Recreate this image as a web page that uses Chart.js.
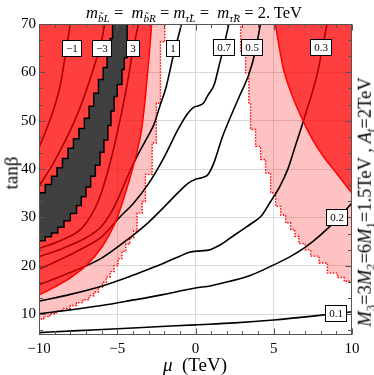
<!DOCTYPE html>
<html>
<head>
<meta charset="utf-8">
<script src="https://cdn.jsdelivr.net/npm/chart.js@4.4.1/dist/chart.umd.min.js"></script>
<style>
html,body{margin:0;padding:0;background:#fff;}
#wrap{position:relative;width:374px;height:375px;overflow:hidden;font-family:"Liberation Serif","Times New Roman",serif;color:#000;}
#c{position:absolute;left:0;top:0;}
.lab{position:absolute;white-space:nowrap;line-height:1;}
.lab i{font-style:italic;}
.lab sub{font-size:68%;vertical-align:baseline;position:relative;top:0.32em;}
#title{left:194px;top:13px;font-size:16.5px;transform:translate(-50%,-50%);}
#ylab{left:11px;top:173px;font-size:19px;transform:translate(-50%,-50%) rotate(-90deg);}
#xlab{left:195px;top:364px;font-size:19px;transform:translate(-50%,-50%);}
#rlab{left:365px;top:202px;font-size:18.5px;transform:translate(-50%,-50%) rotate(-90deg);}
</style>
</head>
<body>
<div id="wrap">
<canvas id="c" width="374" height="375"></canvas>
<div id="title" class="lab"><i>m</i><sub><i>b̃L</i></sub> =&nbsp; <i>m</i><sub><i>b̃R</i></sub> = <i>m</i><sub><i>τ̃L</i></sub> =&nbsp; <i>m</i><sub><i>τ̃R</i></sub> = 2. TeV</div>
<div id="ylab" class="lab">tanβ</div>
<div id="xlab" class="lab"><i>μ</i>&nbsp; (TeV)</div>
<div id="rlab" class="lab"><i>M</i><sub>3</sub>=3<i>M</i><sub>2</sub>=6<i>M</i><sub>1</sub>=1.5TeV , <i>A</i><sub><i>t</i></sub>=2TeV</div>
</div>
<script>
// ---- axes ----
const muRange = [-10, 10];
const tanRange = [5.7, 70];
const muTicks = [-10, -5, 0, 5, 10];
const muTickLabels = ['\u221210', '\u22125', '0', '5', '10'];
const tanTicks = [10, 20, 30, 40, 50, 60, 70];
const tanTickLabels = ['10', '20', '30', '40', '50', '60', '70'];
const muMinorTicks = [-9, -8, -7, -6, -4, -3, -2, -1, 1, 2, 3, 4, 6, 7, 8, 9];
const tanMinorTicks = [6.67, 13.33, 16.67, 23.33, 26.67, 33.33, 36.67, 43.33, 46.67, 53.33, 56.67, 63.33, 66.67];

// ---- contour lines (mu, tan beta) ----
const c01Mu  = [-10, -7.5, -5, -2.5, 0, 2.5, 5, 7.5, 10];
const c01Tan = [6.2, 6.6, 7.0, 7.4, 7.8, 8.2, 8.8, 9.6, 10.5];
const c02Mu  = [-10, -8, -6, -4.2, -2, -1, 0, 1, 2.2, 3.5, 5, 6, 7, 8, 9, 10];
const c02Tan = [10.1, 10.9, 11.8, 12.8, 14.1, 14.8, 15.4, 15.9, 16.8, 18.0, 20.2, 21.8, 23.8, 26.4, 29.5, 33.0];
const c03Mu  = [-10, -8, -6, -4.2, -3, -2, -1, -0.4, 0.3, 0.9, 1.5, 2.2, 3, 3.6, 4.2, 4.8, 5.4, 5.9, 6.4, 6.9, 7.8, 8.4, 8.6];
const c03Tan = [12.7, 14.1, 15.8, 17.8, 19.3, 20.6, 22.0, 22.8, 23.1, 23.3, 24.2, 25.7, 27.5, 28.8, 30.3, 33.3, 36.5, 40, 45, 50, 60, 70, 73.5];
const c05Mu  = [-10, -8, -6, -4.2, -3, -2, -1, -0.5, 0, 0.4, 0.8, 1.2, 1.7, 2.2, 2.8, 3.4, 3.8, 4.15, 4.3];
const c05Tan = [16.1, 18.6, 21.6, 25.8, 29.0, 32.2, 35.5, 37.0, 37.9, 38.2, 38.9, 41.5, 46.5, 50.5, 55, 59.5, 64, 70, 73];
const c07Mu  = [-10, -8.5, -7, -6, -4.8, -4, -3, -2, -1.1, -0.5, -0.1, 0.2, 0.5, 0.8, 1.2, 1.5, 1.8, 2.13, 2.3];
const c07Tan = [19.3, 21.5, 24.0, 26.0, 30.2, 32.8, 37.0, 42.5, 48.3, 51.5, 52.8, 53.1, 53.6, 55.3, 57.5, 61.3, 65.2, 70, 72.5];
const c1Mu   = [-10, -8.5, -7, -6, -5.4, -5, -4.6, -4.2, -3.6, -3, -2.66, -2.25, -1.9, -1.4, -0.9, -0.75];
const c1Tan  = [21.9, 23.6, 25.8, 28.2, 31.0, 33.5, 36.5, 39.5, 43.5, 47.0, 49.2, 53.3, 56.7, 63.7, 70, 72.5];
const c3Mu   = [-10, -8.5, -7.2, -6.2, -5.4, -4.8, -4.4, -4.0, -3.65, -3.45];
const c3Tan  = [23.6, 25.4, 28.0, 33.5, 42.0, 50.5, 57.0, 64.5, 70, 73.5];
const cm3Mu  = [-10, -9.3, -8.7, -8.0, -7.4, -6.9, -6.5, -6.1, -5.8, -5.65];
const cm3Tan = [36.5, 40, 43.5, 48, 52.5, 57, 61, 65.2, 70, 73];
const cm1Mu  = [-10, -9.55, -9.0, -8.6, -8.3, -8.0, -7.85];
const cm1Tan = [44.5, 48, 53, 58, 64, 70, 73];

// ---- region boundaries ----
const redLeftMu   = [-10, -9, -8, -7, -6, -5.5, -5.05, -4.6, -4.2, -3.8, -3.45, -3.2, -3.0, -2.8, -2.75];
const redLeftTan  = [14.0, 15.6, 17.5, 20.0, 23.8, 26.5, 29.5, 33.8, 38.0, 42.8, 48, 55, 62, 70, 72];
const redRightMu  = [5.0, 5.1, 5.6, 6.2, 6.8, 7.5, 8.2, 9.0, 10.0];
const redRightTan = [72, 70, 61, 55, 50.5, 46, 42.5, 39.2, 35];
const pinkLeftMu  = [-10, -9.7, -9.3, -8.9, -8.5, -8.0, -7.6, -7.2, -6.8, -6.5, -6.2, -5.95, -5.7, -5.45, -5.2, -4.95, -4.7, -4.45, -4.2, -3.95, -3.73, -3.41, -3.2, -2.77, -2.5, -2.24, -1.96, -1.96];
const pinkLeftTan = [8.1, 9.0, 9.5, 10.1, 10.6, 11.2, 11.8, 12.4, 13.0, 13.8, 14.6, 15.6, 16.6, 17.7, 18.8, 20.0, 21.5, 23.0, 24.5, 25.8, 27.2, 30.9, 33.3, 38.9, 45.4, 53.6, 66.3, 72];
const pinkRightMu  = [2.88, 3.2, 3.41, 3.52, 3.84, 4.16, 4.48, 4.8, 5.12, 5.44, 5.76, 6.08, 6.35, 6.61, 7.0, 7.36, 7.9, 8.43, 9.07, 9.5, 10.0];
const pinkRightTan = [72, 64.1, 59.9, 53.7, 48.2, 44.7, 42.0, 39.2, 35.1, 32.3, 30.5, 28.9, 27.5, 26.1, 24.6, 23.3, 22.0, 20.6, 18.5, 17.6, 16.8];
const bandLowMu  = [-10, -9.6, -9.2, -8.8, -8.4, -8.0, -7.6, -7.3, -7.0, -6.7, -6.4, -6.1, -5.85, -5.6, -5.4, -5.2, -5.0, -4.7, -4.55, -4.37, -4.37];
const bandLowTan = [25.2, 26.0, 26.8, 28.0, 29.3, 30.8, 32.5, 34.3, 36.3, 38.5, 40.8, 43.5, 46.0, 49.0, 52.0, 55.0, 57.5, 60.6, 63.0, 65.4, 73];
const bandUpMu   = [-10, -9.6, -9.2, -8.85, -8.5, -8.15, -7.8, -7.45, -7.1, -6.8, -6.5, -6.2, -5.9, -5.65, -5.45, -5.3, -5.2, -5.2];
const bandUpTan  = [33.2, 35.1, 36.8, 38.5, 40.3, 42.2, 44.3, 46.3, 48.4, 50.5, 53, 55.7, 58.5, 61, 64, 67, 70, 73];

// ---- contour labels ----
const labelText = ['\u22121', '\u22123', '3', '1', '0.7', '0.5', '0.3', '0.2', '0.1'];
const labelMu   = [-7.93, -6.01, -4.01, -1.45, 1.77, 3.58, 8.0, 9.0, 8.96];
const labelTan  = [65.0, 65.0, 65.0, 65.0, 65.2, 65.2, 65.2, 30.2, 10.3];

const pts = (xs, ys) => xs.map((v, i) => ({x: v, y: ys[i]}));

const PINK = 'rgba(255,0,0,0.24)';
const RED_OVER = 'rgba(255,0,0,0.68)';
const RED_SOLID = 'rgb(255,62,62)';
const DARK_RED_LINE = 'rgb(173,0,0)';

function contour(xs, ys, color, order) {
  return {data: pts(xs, ys), borderColor: color, borderWidth: 1.6, fill: false,
          cubicInterpolationMode: 'monotone', order: order};
}

const datasets = [
  {data: pts(pinkLeftMu, pinkLeftTan), stepped: 'after', fill: 'end', backgroundColor: PINK,
   borderColor: '#ff0000', borderWidth: 1.4, borderDash: [1.5, 1.5], order: 10},
  {data: pts(pinkRightMu, pinkRightTan), stepped: 'after', fill: 'end', backgroundColor: PINK,
   borderColor: '#ff0000', borderWidth: 1.4, borderDash: [1.5, 1.5], order: 10},
  contour(c01Mu, c01Tan, '#000', 9),
  contour(c02Mu, c02Tan, '#000', 9),
  contour(c03Mu, c03Tan, '#000', 9),
  contour(c05Mu, c05Tan, '#000', 9),
  contour(c07Mu, c07Tan, '#000', 9),
  contour(c1Mu, c1Tan, '#000', 9),
  contour(c3Mu, c3Tan, '#000', 9),
  {data: pts(redLeftMu, redLeftTan), fill: 'end', backgroundColor: RED_OVER, borderColor: '#ff0000',
   borderWidth: 1.5, cubicInterpolationMode: 'monotone', order: 8},
  {data: pts(redRightMu, redRightTan), fill: 'end', backgroundColor: RED_OVER, borderColor: '#ff0000',
   borderWidth: 1.5, cubicInterpolationMode: 'monotone', order: 8},
  {data: pts(bandLowMu, bandLowTan), stepped: 'before', fill: 'end', backgroundColor: '#404040',
   borderColor: '#000', borderWidth: 1.5, order: 7},
  {data: pts(bandUpMu, bandUpTan), stepped: 'after', fill: 'end', backgroundColor: RED_SOLID,
   borderColor: '#000', borderWidth: 1.5, order: 6},
  contour(cm3Mu, cm3Tan, DARK_RED_LINE, 5),
  contour(cm1Mu, cm1Tan, DARK_RED_LINE, 5)
];

const decor = {
  id: 'decor',
  afterDatasetsDraw(chart) {
    const {ctx, chartArea: a, scales: {x, y}} = chart;
    const L = Math.round(a.left) + 0.5, R = Math.round(a.right) - 0.5;
    const T = Math.round(a.top) + 0.5, B = Math.round(a.bottom) - 0.5;
    ctx.save();
    ctx.strokeStyle = '#555';
    ctx.lineWidth = 1;
    ctx.beginPath();
    const xt = (vals, len) => vals.forEach(v => {
      const px = Math.round(x.getPixelForValue(v)) + 0.5;
      ctx.moveTo(px, B); ctx.lineTo(px, B - len);
      ctx.moveTo(px, T); ctx.lineTo(px, T + len);
    });
    const yt = (vals, len) => vals.forEach(v => {
      const py = Math.round(y.getPixelForValue(v)) + 0.5;
      ctx.moveTo(L, py); ctx.lineTo(L + len, py);
      ctx.moveTo(R, py); ctx.lineTo(R - len, py);
    });
    xt(muTicks, 6); xt(muMinorTicks, 3.5);
    yt(tanTicks, 6); yt(tanMinorTicks, 3.5);
    ctx.stroke();
    ctx.strokeRect(L, T, R - L, B - T);
    ctx.font = '11px "Liberation Serif", serif';
    ctx.textAlign = 'center';
    ctx.textBaseline = 'middle';
    labelText.forEach((s, i) => {
      const px = x.getPixelForValue(labelMu[i]);
      const py = y.getPixelForValue(labelTan[i]);
      const w = Math.round(ctx.measureText(s).width + 7), h = 16;
      const bx = Math.round(px - w / 2) + 0.5, by = Math.round(py - h / 2) + 0.5;
      ctx.fillStyle = '#fff';
      ctx.fillRect(bx, by, w, h);
      ctx.strokeStyle = '#000';
      ctx.strokeRect(bx, by, w, h);
      ctx.fillStyle = '#000';
      ctx.fillText(s, bx + w / 2, by + h / 2 + 0.5);
    });
    ctx.restore();
  }
};

const tickFont = {family: '"Liberation Serif", serif', size: 15};
const gridColor = (edges) => (c) => (c.tick && edges.includes(c.tick.value)) ? 'rgba(0,0,0,0)' : '#d9d9d9';

new Chart(document.getElementById('c'), {
  type: 'line',
  data: {datasets: datasets},
  options: {
    responsive: false,
    animation: false,
    devicePixelRatio: 1,
    layout: {padding: {left: 0, right: 22, top: 24, bottom: 0}},
    elements: {point: {radius: 0, hitRadius: 0, hoverRadius: 0}, line: {tension: 0}},
    datasets: {line: {clip: 0, spanGaps: true}},
    plugins: {legend: {display: false}, tooltip: {enabled: false}, title: {display: false}},
    events: [],
    scales: {
      x: {
        type: 'linear', min: muRange[0], max: muRange[1],
        afterBuildTicks: s => { s.ticks = muTicks.map(v => ({value: v})); },
        afterFit: s => { s.height = 40; },
        grid: {color: gridColor([-10, 10]), lineWidth: 1, drawTicks: false},
        border: {display: false},
        ticks: {font: tickFont, color: '#000', padding: 5, maxRotation: 0, autoSkip: false,
                callback: v => muTickLabels[muTicks.indexOf(v)]}
      },
      y: {
        type: 'linear', min: tanRange[0], max: tanRange[1],
        afterBuildTicks: s => { s.ticks = tanTicks.map(v => ({value: v})); },
        afterFit: s => { s.width = 39; },
        grid: {color: gridColor([70]), lineWidth: 1, drawTicks: false},
        border: {display: false},
        ticks: {font: tickFont, color: '#000', padding: 3, autoSkip: false,
                callback: v => tanTickLabels[tanTicks.indexOf(v)]}
      }
    }
  },
  plugins: [decor]
});
</script>
</body>
</html>
